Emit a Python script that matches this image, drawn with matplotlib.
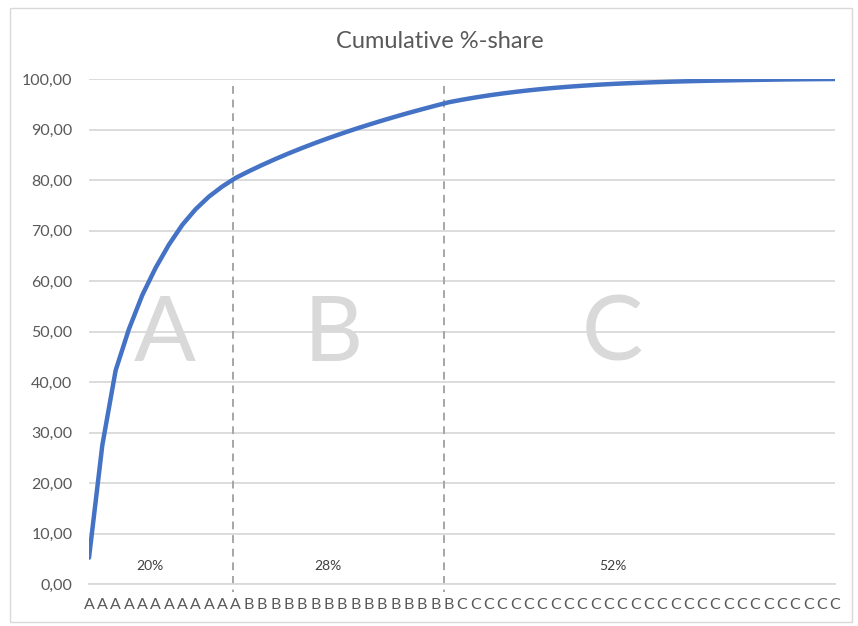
import matplotlib
matplotlib.use("Agg")
import matplotlib.pyplot as plt
from matplotlib.patches import Rectangle
from matplotlib.ticker import FuncFormatter

plt.rcParams['font.family'] = ['Lato', 'DejaVu Sans']

# ABC class of each item (x-axis categories)
classes = ['A'] * 12 + ['B'] * 16 + ['C'] * 29

# Cumulative share of the items, in percent
cum_share = [
    5.2, 27.5, 42.3, 50.5, 57.2, 62.6, 67.2, 71.1, 74.2, 76.7, 78.7, 80.4,
    81.73, 82.98, 84.16, 85.28, 86.34, 87.35, 88.31, 89.23, 90.11, 90.95,
    91.76, 92.54, 93.29, 94.01, 94.71, 95.39,
    95.89, 96.34, 96.75, 97.12, 97.45, 97.75, 98.02, 98.26, 98.47, 98.66,
    98.83, 98.98, 99.11, 99.22, 99.32, 99.41, 99.49, 99.56, 99.62, 99.68,
    99.73, 99.78, 99.82, 99.86, 99.90, 99.93, 99.96, 99.98, 100.0,
]

# Class boundaries (category positions) and share of items in each class
boundaries = [10.8, 26.65]
class_names = ['A', 'B', 'C']
class_label_x = [5.7, 18.3, 39.3]
item_shares = ['20%', '28%', '52%']
share_label_x = [4.6, 17.9, 39.3]

GREY_TXT = '#595959'
GRID = '#d9d9d9'

fig = plt.figure(figsize=(8.58, 6.26), dpi=100)
fig.patches.append(Rectangle((10 / 858, 4 / 626), 842 / 858, 614 / 626,
                             transform=fig.transFigure, fill=False,
                             edgecolor=GRID, linewidth=1.0))

ax = fig.add_axes([89 / 858, 1 - 584 / 626, 746 / 858, 505 / 626])
x = list(range(len(cum_share)))

ax.set_xlim(0, len(cum_share) - 1)
ax.set_ylim(0, 100)
ax.set_yticks(range(0, 101, 10))
ax.yaxis.set_major_formatter(FuncFormatter(lambda v, p: f"{v:.2f}".replace('.', ',')))
ax.set_xticks(x)
ax.set_xticklabels(classes)
ax.grid(axis='y', color=GRID, linewidth=1.3)
ax.set_axisbelow(True)
for s in ['top', 'right', 'left']:
    ax.spines[s].set_visible(False)
ax.spines['bottom'].set_color(GRID)
ax.spines['bottom'].set_linewidth(1.3)
ax.tick_params(axis='both', length=0, colors=GREY_TXT, labelsize=11.5)
ax.tick_params(axis='y', pad=12)
ax.tick_params(axis='x', pad=10)

# Large class letters
for name, cx in zip(class_names, class_label_x):
    ax.text(cx, 49.3, name, ha='center', va='center', fontsize=66,
            color='#d9d9d9', zorder=1)

# Class boundaries
for b in boundaries:
    ax.plot([b, b], [98.6, -1.6], color='#a6a6a6', linewidth=1.4,
            linestyle=(0, (4, 3)), clip_on=False, zorder=2)

# Share of items per class
for lbl, sx in zip(item_shares, share_label_x):
    ax.text(sx, 3.6, lbl, ha='center', va='center', fontsize=10,
            color='#404040')

ax.plot(x, cum_share, color='#4472C4', linewidth=3.2,
        solid_capstyle='round', solid_joinstyle='round', zorder=3)

fig.text(440 / 858, 1 - 42 / 626, 'Cumulative %-share', ha='center',
         va='center', fontsize=17, color=GREY_TXT)

fig.savefig('out.png', dpi=100)
